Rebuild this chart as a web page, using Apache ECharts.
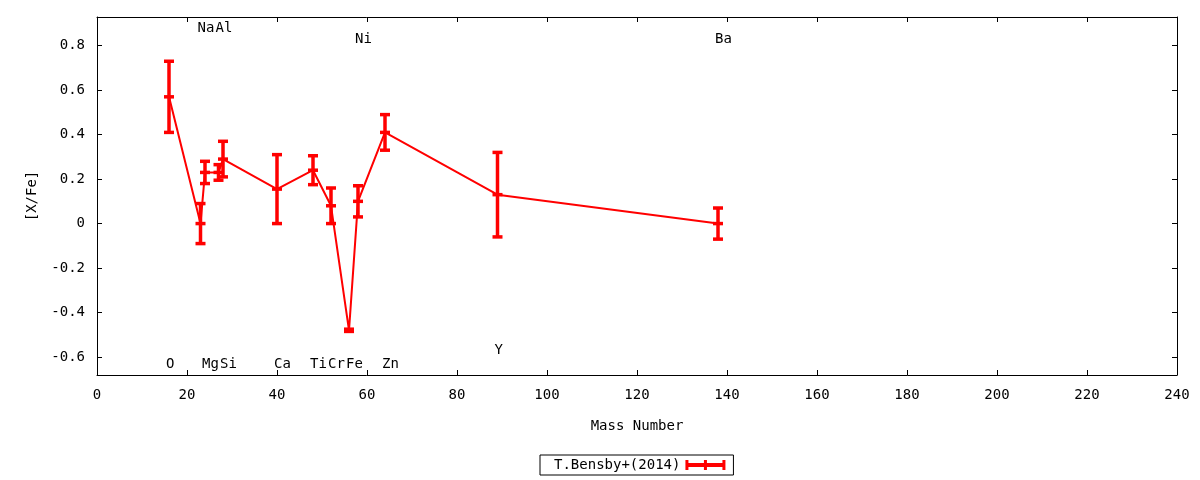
<!DOCTYPE html>
<html>
<head>
<meta charset="utf-8">
<title>[X/Fe] vs Mass Number</title>
<script src="https://cdn.jsdelivr.net/npm/echarts@6/dist/echarts.min.js"></script>
<style>
  html, body { margin: 0; padding: 0; background: #fff; }
  #chart { width: 1200px; height: 480px; }
</style>
</head>
<body>
<div id="chart"></div>
<script>
'use strict';

// element abundances
var elements = ['O', 'Na', 'Mg', 'Al', 'Si', 'Ca', 'Ti', 'Cr', 'Fe', 'Ni', 'Zn', 'Y', 'Ba'];
var massNumbers = [16, 23, 24, 27, 28, 40, 48, 52, 56, 58, 64, 89, 138];
var abundances = [0.57, 0.00, 0.23, 0.23, 0.29, 0.155, 0.24, 0.08, -0.48, 0.10, 0.41, 0.13, 0.00];
var errors = [0.16, 0.09, 0.05, 0.035, 0.08, 0.155, 0.065, 0.08, 0.005, 0.07, 0.08, 0.19, 0.07];
// where each element name sits (value on the y axis)
var labelLevels = [-0.634, 0.876, -0.634, 0.876, -0.634, -0.634, -0.634, -0.634, -0.634, 0.827, -0.634, -0.569, 0.827];
var yTicks = [-0.6, -0.4, -0.2, 0, 0.2, 0.4, 0.6, 0.8];
var seriesName = 'T.Bensby+(2014)';

var FONT = 'DejaVu Sans Mono';
var RED = '#ff0000';

var lineData = massNumbers.map(function(m, i) { return [m, abundances[i]]; });
var errData = massNumbers.map(function(m, i) {
    return [m, abundances[i] - errors[i], abundances[i] + errors[i], abundances[i]];
});
var labelData = massNumbers.map(function(m, i) { return [m, labelLevels[i], elements[i]]; });

function renderError(params, api) {
    var x = api.value(0);
    var lo = api.coord([x, api.value(1)]);
    var hi = api.coord([x, api.value(2)]);
    var mid = api.coord([x, api.value(3)]);
    var hw = 5;
    var style = { stroke: RED, lineWidth: 3.5 };
    return {
        type: 'group',
        children: [
            { type: 'line', shape: { x1: hi[0], y1: hi[1], x2: lo[0], y2: lo[1] }, style: style },
            { type: 'line', shape: { x1: hi[0] - hw, y1: hi[1], x2: hi[0] + hw, y2: hi[1] }, style: style },
            { type: 'line', shape: { x1: lo[0] - hw, y1: lo[1], x2: lo[0] + hw, y2: lo[1] }, style: style },
            { type: 'line', shape: { x1: mid[0] - hw, y1: mid[1], x2: mid[0] + hw, y2: mid[1] }, style: style }
        ]
    };
}

function renderLabel(params, api) {
    var p = api.coord([api.value(0), api.value(1)]);
    return {
        type: 'text',
        x: p[0] - 3,
        y: p[1],
        style: {
            text: elements[params.dataIndex],
            fill: '#000',
            font: '14px "' + FONT + '"',
            align: 'left',
            verticalAlign: 'middle'
        }
    };
}

var axisLine = { show: true, onZero: false, lineStyle: { color: '#000', width: 1 } };
var tick = { show: true, inside: true, length: 5, lineStyle: { color: '#000' } };
var labelStyle = { color: '#000', fontFamily: FONT, fontSize: 14 };

var legendIcon = 'path://M0,0H3V10H0Z M37,0H40V10H37Z M18.5,0H21.5V10H18.5Z M0,3H40V7H0Z';

var option = {
    animation: false,
    backgroundColor: '#fff',
    textStyle: { fontFamily: FONT },
    grid: { left: 97, right: 23, top: 17, bottom: 105 },
    legend: {
        left: 540,
        top: 455,
        width: 192,
        padding: [3, 8, 3, 14],
        align: 'right',
        borderColor: '#000',
        borderWidth: 1,
        itemWidth: 40,
        itemHeight: 10,
        textStyle: { color: '#000', fontFamily: FONT, fontSize: 14 },
        data: [{ name: seriesName, icon: legendIcon, itemStyle: { color: RED } }]
    },
    xAxis: [{
        type: 'value',
        min: 0,
        max: 240,
        interval: 20,
        name: 'Mass Number',
        nameLocation: 'middle',
        nameGap: 44,
        nameTextStyle: labelStyle,
        axisLine: axisLine,
        axisTick: tick,
        axisLabel: Object.assign({ margin: 13 }, labelStyle),
        splitLine: { show: false }
    }, {
        type: 'value',
        position: 'top',
        min: 0,
        max: 240,
        interval: 20,
        axisLine: axisLine,
        axisTick: tick,
        axisLabel: { show: false },
        splitLine: { show: false }
    }],
    yAxis: [{
        type: 'value',
        min: -0.681,
        max: 0.929,
        name: '[X/Fe]',
        nameLocation: 'middle',
        nameGap: 58,
        nameRotate: 90,
        nameTextStyle: labelStyle,
        axisLine: axisLine,
        axisTick: Object.assign({ customValues: yTicks }, tick),
        axisLabel: Object.assign({
            customValues: yTicks,
            margin: 12,
            formatter: function(v) { return Math.abs(v) < 1e-9 ? '0' : String(+v.toFixed(1)); }
        }, labelStyle),
        splitLine: { show: false }
    }, {
        type: 'value',
        position: 'right',
        min: -0.681,
        max: 0.929,
        axisLine: axisLine,
        axisTick: Object.assign({ customValues: yTicks }, tick),
        axisLabel: { show: false },
        splitLine: { show: false }
    }],
    series: [{
        name: seriesName,
        type: 'line',
        data: lineData,
        symbol: 'none',
        lineStyle: { color: RED, width: 2 },
        itemStyle: { color: RED },
        z: 2
    }, {
        name: seriesName,
        type: 'custom',
        data: errData,
        renderItem: renderError,
        encode: { x: 0, y: [1, 2, 3] },
        itemStyle: { color: RED },
        z: 3
    }, {
        name: 'labels',
        type: 'custom',
        data: labelData,
        renderItem: renderLabel,
        encode: { x: 0, y: 1 },
        silent: true,
        z: 4
    }]
};

var myChart = echarts.init(document.getElementById('chart'));
myChart.setOption(option);
</script>
</body>
</html>
